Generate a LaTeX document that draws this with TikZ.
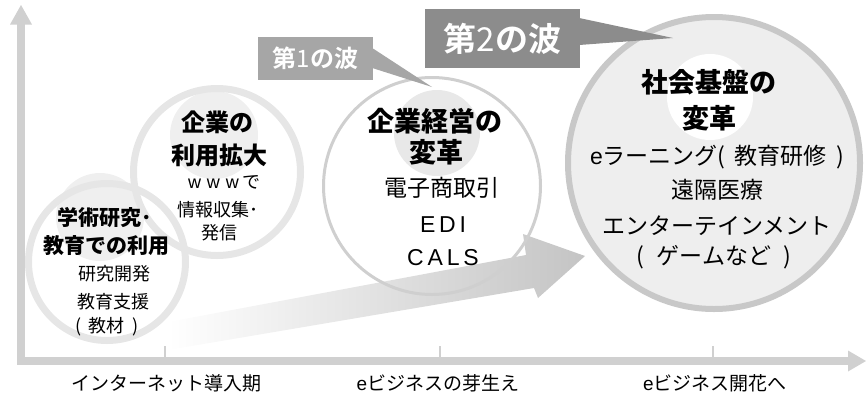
\documentclass[tikz,border=0pt]{standalone}
\usepackage{fontspec}
\setmainfont{Noto Sans CJK JP}[BoldFont={Noto Sans CJK JP Bold}]
\newfontfamily\heavy{Noto Sans CJK JP Black}
\newfontfamily\lsf{Liberation Sans}
\definecolor{axisgray}{HTML}{D0D0D0}
\definecolor{ringlight}{HTML}{E6E6E6}
\definecolor{ringmid}{HTML}{CFCFCF}
\definecolor{ringbig}{HTML}{C8C8C8}
\definecolor{bigfill}{HTML}{EEEEEE}
\definecolor{waveone}{HTML}{A6A6A6}
\definecolor{wavetwo}{HTML}{8C8C8C}
\definecolor{arrowgray}{HTML}{C4C4C4}
\definecolor{spotgray}{HTML}{E8E8E8}
\definecolor{spotlight}{HTML}{EFEFEF}
\tikzset{
  axisline/.style={draw=axisgray, line width=8.5pt, line join=miter},
  tickmark/.style={draw=axisgray, line width=2pt},
  lbl/.style={inner sep=0pt, anchor=center, text=black},
  hone/.style={lbl, font=\heavy\fontsize{21pt}{21pt}\selectfont},
  none/.style={lbl, font=\fontsize{18pt}{18pt}\selectfont},
  htwo/.style={lbl, font=\heavy\fontsize{24pt}{24pt}\selectfont},
  hthree/.style={lbl, font=\heavy\fontsize{27pt}{27pt}\selectfont},
  nthree/.style={lbl, font=\fontsize{23pt}{23pt}\selectfont},
  axlbl/.style={lbl, font=\fontsize{19pt}{19pt}\selectfont},
  wavebox/.style={inner sep=0pt, text=white},
}
\begin{document}
\begin{tikzpicture}[x=1pt,y=-1pt]
\useasboundingbox (0,0) rectangle (866,397);
% axes
\coordinate (ytop) at (21,24);
\coordinate (orig) at (21,361);
\coordinate (xend) at (848,361);
\draw[axisline] (ytop) -- (orig) -- (xend);
\fill[axisgray] (10,24.5) -- (32,24.5) -- (21,5) -- cycle;
\fill[axisgray] (848,350.5) -- (848,371.5) -- (866,361) -- cycle;
% ticks
\foreach \tx in {165,440,713} \draw[tickmark] (\tx,346) -- (\tx,358);
% axis labels
\node[axlbl] (l1) at (166,383) {インターネット導入期};
\node[axlbl] (l2) at (438,383) {{\lsf e}ビジネスの芽生え};
\node[axlbl] (l3) at (715,383) {{\lsf e}ビジネス開花へ};
% big shaded arrow
\shade[left color=white, right color=arrowgray]
  (168,322) -- (526,255) -- (523,234) -- (585,256) -- (538,298) -- (534,288) -- (168,350) -- cycle;
% circle spots
\fill[spotlight] (100,217) circle[radius=44];
\fill[spotlight] (214,135) circle[radius=44];
\fill[spotgray] (437,133) circle[radius=43];
% circles
\draw[ringlight, line width=7pt] (107,262) circle[radius=78.5];
\draw[ringlight, line width=7pt] (217,172) circle[radius=83.5];
\draw[ringmid, line width=3pt] (432,186) circle[radius=108.5];
\draw[ringbig, fill=bigfill, line width=6pt] (714,163) circle[radius=146];
\fill[white] (710,97) circle[radius=43];
% circle 1 text
\node[hone] (a1) at (105,218) {学術研究･};
\node[hone] (a2) at (106,246) {教育での利用};
\node[none] (a3) at (114,274) {研究開発};
\node[none] (a4) at (113,302) {教育支援};
\node[none] (a5) at (107,327) {(\hspace{0.4em}教材\hspace{0.4em})};
% circle 2 text
\node[htwo] (b1) at (217,122) {企業の};
\node[htwo] (b2) at (219,155) {利用拡大};
\node[none] (b3) at (224,182) {{\lsf w\,\,w\,\,w\,}で};
\node[none] (b4) at (218,210) {情報収集･};
\node[none] (b5) at (219,233) {発信};
% circle 3 text
\node[hthree] (c1) at (435,121) {企業経営の};
\node[hthree] (c2) at (436,152) {変革};
\node[nthree] (c3) at (442,188) {電子商取引};
\node[nthree] (c4) at (443,225) {{\lsf E\,D\,I}};
\node[nthree] (c5) at (443,258) {{\lsf C\,A\,L\,S}};
% circle 4 text
\node[hthree] (d1) at (709,82) {社会基盤の};
\node[hthree] (d2) at (709,118) {変革};
\node[nthree] (d3) at (717,157) {{\lsf e}ラーニング(\hspace{0.4em}教育研修\hspace{0.4em})};
\node[nthree] (d4) at (717,190) {遠隔医療};
\node[nthree] (d5) at (717,226) {エンターテインメント};
\node[nthree] (d6) at (714,257) {(\hspace{0.55em}ゲームなど\hspace{0.55em})};
% wave callouts
\node[wavebox, fill=waveone, minimum width=115pt, minimum height=43pt,
      font=\bfseries\fontsize{24pt}{24pt}\selectfont] (w1) at (315.5,58.5) {第{\mdseries 1}の波};
\coordinate (tipone) at (432,87);
\fill[waveone] ([xshift=-1pt,yshift=10.5pt]w1.east) -- (tipone) -- ([xshift=-1pt,yshift=-9.5pt]w1.east) -- cycle;
\node[wavebox, fill=wavetwo, minimum width=155pt, minimum height=59pt,
      font=\bfseries\fontsize{33pt}{33pt}\selectfont] (w2) at (502.5,38.5) {第{\mdseries 2}の波};
\coordinate (tiptwo) at (673,38);
\fill[wavetwo] ([xshift=-1pt,yshift=20.5pt]w2.east) -- (tiptwo) -- ([xshift=-1pt,yshift=-6.5pt]w2.east) -- cycle;
\end{tikzpicture}
\end{document}
